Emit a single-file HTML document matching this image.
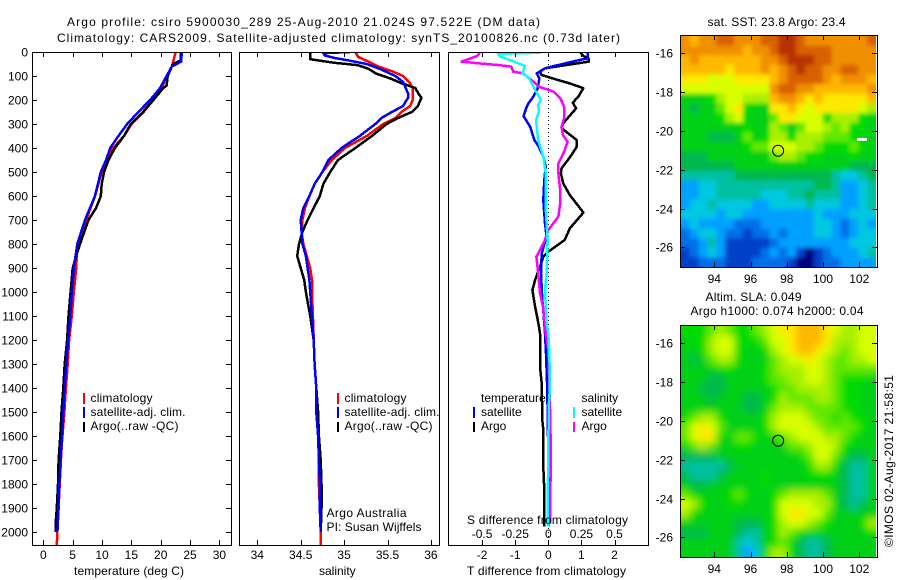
<!DOCTYPE html>
<html lang="en">
<head>
<meta charset="utf-8">
<title>Argo profile csiro 5900030_289</title>
<style>
html,body{margin:0;padding:0;background:#fff;}
svg{display:block;}
text{font-family:"Liberation Sans",Arial,sans-serif;font-size:12px;fill:#000;}
</style>
</head>
<body>
<svg id="fig" xmlns="http://www.w3.org/2000/svg" width="900" height="580" viewBox="0 0 900 580">
  <defs>
    <filter id="blur-sst" x="-10%" y="-10%" width="120%" height="120%"><feGaussianBlur stdDeviation="2"/></filter>
    <filter id="blur-sla" x="-10%" y="-10%" width="120%" height="120%"><feGaussianBlur stdDeviation="4"/></filter>
  </defs>
  <rect width="900" height="580" fill="#fff"/>
  <text x="67" y="26" textLength="473">Argo profile: csiro 5900030_289 25-Aug-2010 21.024S 97.522E (DM data)</text>
  <text x="57" y="42" textLength="563">Climatology: CARS2009. Satellite-adjusted climatology: synTS_20100826.nc (0.73d later)</text>

  <g id="p1"></g>
  <g id="p2"></g>
  <g id="p3"></g>
  <g id="m1"></g>
  <g id="m2"></g>

  <text x="74" y="575" textLength="110">temperature (deg C)</text>
  <text x="319" y="575">salinity</text>
  <text x="467" y="575" textLength="159">T difference from climatology</text>
  <text x="467" y="524" textLength="161">S difference from climatology</text>

  <g>
    <rect x="83" y="393" width="2" height="11" fill="#f00"/>
    <text x="90.5" y="402" textLength="62">climatology</text>
    <rect x="83" y="407" width="2" height="11" fill="#00f"/>
    <text x="90.5" y="416" textLength="95">satellite-adj. clim.</text>
    <rect x="83" y="422" width="2" height="10" fill="#000"/>
    <text x="90.5" y="430" textLength="88">Argo(..raw -QC)</text>
  </g>
  <g>
    <rect x="337" y="393" width="2" height="11" fill="#f00"/>
    <text x="344.5" y="402" textLength="62">climatology</text>
    <rect x="337" y="407" width="2" height="11" fill="#00f"/>
    <text x="344.5" y="416" textLength="95">satellite-adj. clim.</text>
    <rect x="337" y="422" width="2" height="10" fill="#000"/>
    <text x="344.5" y="430" textLength="88">Argo(..raw -QC)</text>
  </g>
  <g>
    <text x="481" y="402">temperature</text>
    <rect x="473" y="407" width="2" height="11" fill="#00f"/>
    <text x="481" y="416">satellite</text>
    <rect x="473" y="422" width="2" height="10" fill="#000"/>
    <text x="481" y="430">Argo</text>
    <text x="581.5" y="402">salinity</text>
    <rect x="573" y="407" width="2" height="11" fill="#0ff"/>
    <text x="581.5" y="416">satellite</text>
    <rect x="573" y="422" width="2" height="10" fill="#f0f"/>
    <text x="581.5" y="430">Argo</text>
  </g>
  <text x="326.5" y="517" textLength="80">Argo Australia</text>
  <text x="326.5" y="531" textLength="95">PI: Susan Wijffels</text>

  <text x="707.5" y="26" textLength="138">sat. SST: 23.8 Argo: 23.4</text>
  <text x="705.5" y="301" textLength="96">Altim. SLA: 0.049</text>
  <text x="690.5" y="315" textLength="173">Argo h1000: 0.074 h2000: 0.04</text>
  <text transform="translate(893 547) rotate(-90)" textLength="172">©IMOS 02-Aug-2017 21:58:51</text>
</svg>

<script>
// ---------- shared tick labels ----------
const depthTicks = [0,100,200,300,400,500,600,700,800,900,1000,1100,1200,1300,1400,1500,1600,1700,1800,1900,2000];
const tempTicks = [0,5,10,15,20,25,30];
const salTicks = [34,34.5,35,35.5,36];
const salTickLabels = ['34','34.5','35','35.5','36'];
const tDiffTicks = [-2,-1,0,1,2];
const tDiffLabels = ['-2','-1','0','1','2'];
const sDiffTicks = [-0.5,-0.25,0,0.25,0.5];
const sDiffLabels = ['-0.5','-0.25','0','0.25','0.5'];
const lonTicks = [94,96,98,100,102];
const latTicks = [-16,-18,-20,-22,-24,-26];

// ---------- temperature profiles ----------
const tempClimDepth = [0,60,100,150,200,250,300,350,400,450,500,600,700,800,900,1000,1100,1200,1300,1400,1500,1600,1700,1800,1900,2000,2055];
const tempClimValue = [22.55,21.9,21.0,20.2,18.5,17.0,15.05,13.75,11.9,10.9,9.95,8.8,7.3,5.8,5.6,5.2,4.85,4.4,4.15,3.85,3.6,3.25,3.0,2.8,2.6,2.4,2.3];
const tempSatDepth = [0,40,60,100,150,200,250,300,350,400,450,500,600,700,800,900,1000,1100,1200,1300,1400,1500,1600,1700,1800,1900,2000];
const tempSatValue = [23.6,23.5,21.9,21.0,19.9,18.2,16.2,14.3,12.8,11.4,10.7,9.8,8.8,7.1,5.8,5.2,4.85,4.6,4.25,3.9,3.65,3.4,3.2,2.95,2.75,2.55,2.4];
const tempArgoDepth = [0,35,50,60,100,140,150,200,250,300,350,400,450,500,550,600,650,700,800,850,900,1000,1100,1200,1300,1400,1500,1600,1700,1800,1900,1950,2000];
const tempArgoValue = [23.4,23.4,22.15,21.9,21.2,21.0,20.45,18.75,17.05,14.9,13.75,12.2,11.1,10.35,9.95,9.8,9.0,7.7,6.25,5.6,5.0,4.65,4.3,4.05,3.65,3.4,3.1,2.9,2.6,2.5,2.3,2.15,2.15];

// ---------- salinity profiles ----------
const salClimDepth = [0,20,40,60,80,100,125,150,175,200,225,250,275,300,350,400,450,500,550,600,650,700,750,800,850,900,950,1000,1100,1200,1300,1400,1500,1600,1700,1800,1900,2000,2055];
const salClimValue = [35.13,35.16,35.28,35.39,35.55,35.68,35.75,35.79,35.79,35.79,35.76,35.66,35.59,35.45,35.26,35.01,34.86,34.75,34.66,34.6,34.55,34.52,34.51,34.53,34.57,34.61,34.63,34.63,34.64,34.65,34.66,34.68,34.68,34.7,34.71,34.71,34.72,34.73,34.73];
const salSatDepth = [0,5,15,25,35,50,70,100,125,150,175,190,200,225,250,275,300,350,400,450,500,550,600,650,700,750,800,850,900,950,1000,1100,1200,1300,1400,1500,1600,1700,1800,1900,2000];
const salSatValue = [35.07,34.76,34.78,34.89,35.05,35.26,35.41,35.59,35.68,35.71,35.74,35.74,35.72,35.68,35.55,35.43,35.36,35.18,34.97,34.82,34.75,34.66,34.6,34.53,34.5,34.51,34.52,34.56,34.58,34.6,34.61,34.63,34.65,34.66,34.68,34.68,34.7,34.71,34.72,34.72,34.73];
const salArgoDepth = [0,30,35,45,55,70,90,110,130,150,175,190,200,225,250,275,300,350,400,450,500,550,600,650,700,750,800,850,900,950,1000,1100,1200,1300,1400,1500,1600,1700,1800,1900,2000];
const salArgoValue = [34.61,34.61,34.7,34.89,35.16,35.28,35.37,35.53,35.66,35.82,35.86,35.89,35.88,35.85,35.78,35.62,35.49,35.32,35.13,34.93,34.84,34.76,34.72,34.65,34.58,34.52,34.48,34.46,34.5,34.54,34.56,34.61,34.65,34.66,34.68,34.7,34.71,34.73,34.74,34.74,34.73];

// ---------- difference profiles ----------
const dTArgoDepth = [0,17,26,40,68,82,96,117,131,151,186,211,235,297,314,328,367,394,429,485,506,547,596,669,735,783,832,853,894,950,992,1061,1131,1172,1311,1381,1533,1575,1728,1825,1978];
const dTArgoValue = [0.96,1.06,1.21,1.23,-0.1,-0.25,-0.2,0.3,0.65,1.06,0.91,0.74,0.84,0.45,0.4,0.5,0.86,0.86,0.7,0.4,0.38,0.45,0.65,1.06,0.65,0.5,0,-0.15,-0.25,-0.4,-0.48,-0.4,-0.3,-0.25,-0.25,-0.2,-0.18,-0.15,-0.15,-0.12,-0.12];
const dTSatDepth = [5,26,44,68,89,110,151,186,214,235,267,311,367,392,436,478,533,617,714,769,839,922,1033,1075,1172,1256,1408,1603,1978];
const dTSatValue = [1.2,1.19,0.6,-0.1,-0.35,-0.27,-0.32,-0.45,-0.6,-0.67,-0.75,-0.55,-0.42,-0.3,-0.15,-0.08,-0.12,-0.15,-0.1,-0.05,-0.2,-0.22,-0.18,-0.15,-0.1,-0.07,-0.03,-0.01,0];
const dSArgoDepth = [3,17,40,47,54,61,82,89,124,144,165,193,228,276,311,346,374,415,464,506,575,631,686,742,790,853,922,1005,1061,1172,1242,1464,1631,1964];
const dSArgoValue = [-0.516,-0.54,-0.655,-0.53,-0.38,-0.28,-0.265,-0.19,-0.11,-0.075,0.04,0.09,0.12,0.12,0.1,0.11,0.146,0.12,0.076,0.076,0.09,0.09,0.076,0,-0.03,-0.09,-0.076,-0.063,-0.04,-0.02,0,0.012,0.018,0.015];
const dSSatDepth = [3,8,19,36,58,89,105,158,200,221,249,283,367,436,506,644,714,783,922,992,1131,1172,1270,1394,1478,1686,1894,1978];
const dSSatValue = [-0.055,-0.38,-0.365,-0.277,-0.176,-0.196,-0.15,-0.1,-0.055,-0.076,-0.07,-0.093,-0.076,-0.038,-0.02,-0.02,-0.013,-0.005,-0.013,-0.025,-0.013,0,0.008,0.013,0.003,0,-0.005,-0.005];

// ---------- map colour levels, one row per latitude band, north to south ----------
const sstLevels = [
[14,13,14,14,15,15,14,14,14,15,15,16,16,15,14,14,14,14,14,14,14,15],
[14,14,14,14,14,14,14,13,14,14,15,16,16,15,15,15,15,14,14,14,14,14],
[13,14,13,13,13,13,13,13,13,14,14,15,16,16,16,15,15,14,14,14,14,14],
[13,13,13,13,13,12,13,13,13,14,13,14,15,16,15,15,14,14,15,15,14,14],
[12,12,12,11,11,11,12,12,12,12,13,14,15,15,15,15,14,13,14,14,14,13],
[11,11,11,11,11,11,11,11,11,11,14,15,15,14,14,13,13,13,13,13,13,14],
[7,7,7,8,10,11,11,10,10,10,13,14,14,13,12,13,12,12,12,12,12,13],
[7,6,7,7,9,11,12,8,7,7,12,12,13,12,11,12,12,12,12,12,11,10],
[7,7,7,7,8,10,11,7,7,7,9,12,12,11,11,11,8,10,10,10,8,7],
[7,7,7,7,7,7,7,8,7,7,10,9,7,9,11,11,10,9,10,8,8,7],
[7,7,7,6,6,6,7,9,7,8,10,10,8,10,10,10,9,9,9,8,7,7],
[7,7,7,7,7,7,7,8,9,9,11,11,11,10,10,9,8,8,8,9,8,7],
[6,6,6,7,7,7,7,7,7,7,9,10,10,9,8,8,7,7,7,8,7,7],
[6,6,6,6,6,6,7,7,7,7,7,7,7,7,7,7,7,7,7,6,6,6],
[5,5,5,5,5,5,6,6,6,6,6,6,6,6,6,6,6,5,4,4,5,6],
[3,3,4,4,5,5,5,5,5,5,5,5,5,5,5,6,6,5,3,3,4,5],
[3,3,4,4,5,5,5,5,5,4,4,4,5,5,6,5,5,5,3,3,4,5],
[3,4,4,5,4,4,4,4,3,3,4,4,4,4,5,4,4,4,3,3,4,5],
[4,4,4,4,3,4,4,3,3,3,3,3,3,3,3,4,3,3,3,4,4,4],
[3,4,3,3,3,3,2,2,2,3,3,3,3,3,3,4,4,3,2,3,4,3],
[2,3,4,4,3,2,2,1,2,2,3,2,3,3,3,4,4,3,2,3,4,4],
[2,2,3,5,3,1,1,1,1,1,2,3,3,3,3,3,3,3,3,4,4,4],
[1,2,3,4,3,1,1,1,1,2,3,2,3,1,0,1,2,3,3,3,4,5],
[1,1,2,2,2,1,1,1,2,2,2,2,1,0,0,1,2,2,3,3,3,3]
];
const slaLevels = [
[8,8,8,9,10,9,8,8,9,10,11,12,12,13,13,13,12,11,10,10,11,11],
[7,8,8,10,11,11,8,8,8,9,11,11,12,13,13,13,12,10,10,10,11,11],
[7,7,8,10,11,11,8,7,7,8,10,11,12,13,13,12,11,10,9,10,11,11],
[7,6,7,9,10,10,8,7,7,7,9,10,11,11,12,11,10,9,9,10,10,11],
[7,7,7,7,8,8,7,7,7,8,9,10,10,10,11,11,10,9,9,9,9,9],
[7,7,7,6,6,7,7,7,7,8,9,9,10,10,11,11,10,9,8,8,8,7],
[7,7,6,6,6,7,7,7,7,7,8,9,9,10,10,10,10,9,8,8,7,7],
[7,7,7,6,7,7,7,6,6,7,8,10,9,9,9,10,10,9,8,8,7,7],
[7,7,7,7,7,7,7,6,6,7,9,10,10,10,9,9,9,9,8,8,7,7],
[8,9,10,10,8,7,7,7,7,8,10,11,11,11,10,9,9,8,9,8,8,7],
[9,11,12,11,9,7,7,7,7,8,10,11,11,11,11,10,9,9,9,9,8,7],
[9,11,12,12,8,7,9,9,8,7,8,9,10,11,11,11,10,10,9,8,7,7],
[8,9,10,9,7,7,8,8,7,7,7,7,9,9,10,11,11,10,8,7,7,7],
[6,6,6,6,7,7,7,7,7,7,7,7,7,8,9,11,11,9,7,6,6,7],
[5,5,5,5,5,6,7,7,7,7,7,7,7,7,8,10,10,8,6,5,5,7],
[6,5,5,5,6,7,7,7,7,8,7,7,7,7,8,8,8,7,6,5,5,7],
[7,6,6,7,7,7,7,7,7,8,7,7,7,7,7,7,7,7,6,5,5,7],
[9,8,7,7,7,8,9,8,7,7,8,9,10,10,10,10,9,7,6,5,5,7],
[11,10,8,7,7,8,8,7,7,7,8,11,11,11,11,10,10,7,6,5,6,7],
[10,8,7,7,7,7,7,7,7,7,8,11,12,12,11,11,9,7,7,7,7,7],
[7,7,7,7,7,7,6,6,6,7,8,10,11,11,10,9,8,7,7,7,8,10],
[6,6,6,7,7,7,6,5,5,7,8,10,9,8,7,7,7,7,7,7,7,8],
[7,7,7,7,7,7,5,4,5,7,8,9,8,6,5,5,6,7,7,7,7,7],
[7,7,7,7,7,7,5,3,4,7,10,10,8,6,5,5,6,7,7,7,7,7]
];
const levelColors = ['#000080','#0040c8','#0070e8','#00a0ff','#00c8e0','#00c0a0','#00b84c','#00d018','#00dc00','#60e800','#a8f000','#d8ff00','#ffe800','#ffb800','#f09000','#d86000','#b83000'];

// ---------- axis functions ----------
const SVGNS = 'http://www.w3.org/2000/svg';
function mk(tag, attrs, parent){
  const el = document.createElementNS(SVGNS, tag);
  for (const k in attrs) el.setAttribute(k, attrs[k]);
  parent.appendChild(el);
  return el;
}
const PLOT_TOP = 52, PLOT_BOTTOM = 545;
const yDepth = d => PLOT_TOP + d * 0.24;
const xTemp = t => 43.3 + t * 5.87;
const xSal = s => 257.3 + (s - 34) * 86.8;
const xDT = t => 548.3 + t * 33.1;
const xDS = s => 548.3 + s * 132.4;
const xLon = (lon) => 714.3 + (lon - 94) * 18.12;

function frame(g, left, right, top, bottom, name){
  const r = mk('rect', {x:left+0.5, y:top+0.5, width:right-left, height:bottom-top, fill:'none', stroke:'#000', 'stroke-width':1, 'shape-rendering':'crispEdges'}, g);
  
  
}
function tickLine(g, x1, y1, x2, y2){
  const l = mk('line', {x1:x1, y1:y1, x2:x2, y2:y2, stroke:'#000', 'stroke-width':1, 'shape-rendering':'crispEdges'}, g);
  
  
}
function label(g, x, y, txt, anchor){
  const t = mk('text', {x:x, y:y, 'text-anchor':anchor}, g);
  t.textContent = txt;
  
  
}
function xTicks(g, vals, fn, top, bottom){
  vals.forEach(v => {
    const x = Math.round(fn(v)) + 0.5;
    tickLine(g, x, top, x, top + 5);
    tickLine(g, x, bottom - 5, x, bottom);
  });
}
function series(g, clipId, fx, depths, values, color, name){
  const pts = depths.map((d, i) => fx(values[i]).toFixed(1) + ',' + yDepth(d).toFixed(1));
  const p = mk('polyline', {points:pts.join(' '), fill:'none', stroke:color, 'stroke-width':2.5, 'stroke-linejoin':'round', 'clip-path':'url(#' + clipId + ')', 'shape-rendering':'crispEdges'}, g);
  
  
}
function clip(id, left, right, top, bottom){
  const c = mk('clipPath', {id:id}, document.getElementById('fig'));
  mk('rect', {x:left, y:top, width:right-left, height:bottom-top}, c);
}

// ---------- temperature panel ----------
const p1 = document.getElementById('p1');
clip('c1', 33, 232, 52, 545);
series(p1, 'c1', xTemp, tempClimDepth, tempClimValue, '#f00', 'temperature-climatology-line');
series(p1, 'c1', xTemp, tempArgoDepth, tempArgoValue, '#000', 'temperature-argo-line');
series(p1, 'c1', xTemp, tempSatDepth, tempSatValue, '#00f', 'temperature-satellite-line');
frame(p1, 32, 231, 52, 545, 'temperature-plot-frame');
xTicks(p1, tempTicks, xTemp, 52, 545);
tempTicks.forEach(v => label(p1, xTemp(v), 559, String(v), 'middle'));
depthTicks.forEach(d => {
  const y = Math.round(yDepth(d)) + 0.5;
  tickLine(p1, 32, y, 37, y);
  tickLine(p1, 226, y, 231, y);
  label(p1, 28, y + 4, String(d), 'end');
});

// ---------- salinity panel ----------
const p2 = document.getElementById('p2');
clip('c2', 240, 439, 52, 545);
series(p2, 'c2', xSal, salClimDepth, salClimValue, '#f00', 'salinity-climatology-line');
series(p2, 'c2', xSal, salArgoDepth, salArgoValue, '#000', 'salinity-argo-line');
series(p2, 'c2', xSal, salSatDepth, salSatValue, '#00f', 'salinity-satellite-line');
frame(p2, 239, 439, 52, 545, 'salinity-plot-frame');
xTicks(p2, salTicks, xSal, 52, 545);
salTicks.forEach((v, i) => label(p2, xSal(v), 559, salTickLabels[i], 'middle'));

// ---------- difference panel ----------
const p3 = document.getElementById('p3');
clip('c3', 449, 648, 52, 545);
const zeroLine = mk('line', {x1:548.5, y1:52, x2:548.5, y2:545, stroke:'#000', 'stroke-width':1, 'stroke-dasharray':'1 3', 'shape-rendering':'crispEdges'}, p3);


series(p3, 'c3', xDT, dTArgoDepth, dTArgoValue, '#000', 't-difference-argo-line');
series(p3, 'c3', xDT, dTSatDepth, dTSatValue, '#00f', 't-difference-satellite-line');
series(p3, 'c3', xDS, dSArgoDepth, dSArgoValue, '#f0f', 's-difference-argo-line');
series(p3, 'c3', xDS, dSSatDepth, dSSatValue, '#0ff', 's-difference-satellite-line');
frame(p3, 448, 648, 52, 545, 'difference-plot-frame');
xTicks(p3, tDiffTicks, xDT, 52, 545);
tDiffTicks.forEach((v, i) => label(p3, xDT(v), 559, tDiffLabels[i], 'middle'));
sDiffTicks.forEach((v, i) => label(p3, xDS(v), 538, sDiffLabels[i], 'middle'));

// ---------- maps ----------
const LON_WEST = 92.16, CELL_LON = 0.489, CELL_LAT = 0.496, LAT_NORTH = -15.11;
const EDGE_PAD = 16;
function drawMap(g, rows, top, bottom, name, cellName, filterId, clipId){
  const latZero = top + 18.3;
  const yLat = lat => latZero + (-16 - lat) * 19.4;
  clip(clipId, 681, 876, top + 1, bottom);
  const clipped = mk('g', {'clip-path':'url(#' + clipId + ')'}, g);
  
  
  const field = mk('g', {filter:'url(#' + filterId + ')'}, clipped);
  
  
  const nRows = rows.length;
  rows.forEach((row, r) => {
    row.forEach((level, c) => {
      let x0 = xLon(LON_WEST + c * CELL_LON);
      let x1 = xLon(LON_WEST + (c + 1) * CELL_LON);
      let y0 = yLat(LAT_NORTH - r * CELL_LAT);
      let y1 = yLat(LAT_NORTH - (r + 1) * CELL_LAT);
      if (c === 0) x0 -= EDGE_PAD;
      if (c === row.length - 1) x1 += EDGE_PAD;
      if (r === 0) y0 -= EDGE_PAD;
      if (r === nRows - 1) y1 += EDGE_PAD;
      const cell = mk('rect', {x:x0.toFixed(2), y:y0.toFixed(2), width:(x1 - x0 + 0.3).toFixed(2), height:(y1 - y0 + 0.3).toFixed(2), fill:levelColors[level]}, field);
      
      
    });
  });
  frame(g, 680, 877, top, bottom, name + '-frame');
  xTicks(g, lonTicks, xLon, top, bottom);
  lonTicks.forEach(v => label(g, xLon(v), bottom + 16, String(v), 'middle'));
  latTicks.forEach(v => {
    const y = Math.round(yLat(v)) + 0.5;
    tickLine(g, 680, y, 685, y);
    tickLine(g, 872, y, 877, y);
    label(g, 673, y + 4, String(v), 'end');
  });
  const marker = mk('circle', {cx:xLon(97.522), cy:yLat(-21.024), r:5.5, fill:'none', stroke:'#000', 'stroke-width':1}, g);
  
  
  return yLat;
}
const m1 = document.getElementById('m1');
const yLat1 = drawMap(m1, sstLevels, 35, 267, 'sst-map', 'sst-cell', 'blur-sst', 'c4');
const gap = mk('rect', {x:xLon(101.87), y:yLat1(-20.36), width:10, height:3, fill:'#fff'}, m1);


const m2 = document.getElementById('m2');
drawMap(m2, slaLevels, 325, 557, 'sla-map', 'sla-cell', 'blur-sla', 'c5');
</script>
</body>
</html>
